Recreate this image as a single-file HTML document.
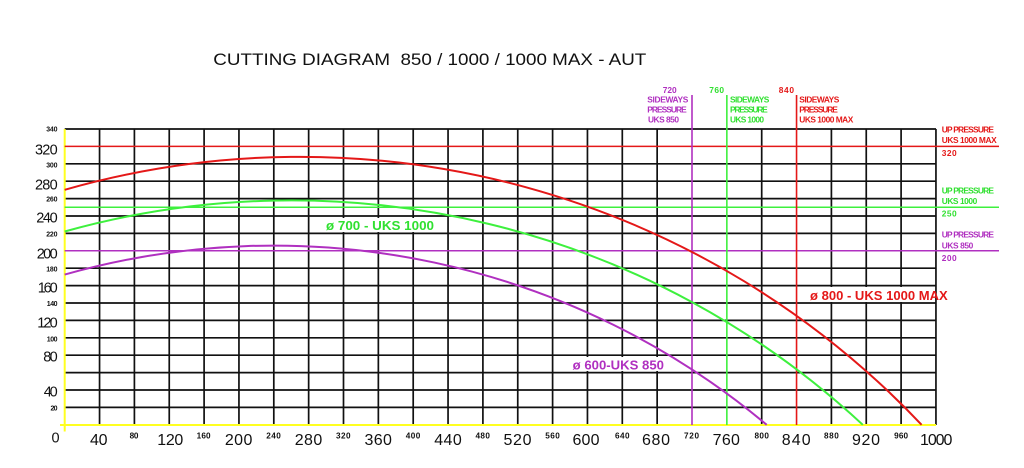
<!DOCTYPE html>
<html><head><meta charset="utf-8"><style>
html,body{margin:0;padding:0;background:#fff;width:1024px;height:468px;overflow:hidden;}
svg{display:block;}
text{font-family:"Liberation Sans",sans-serif;}
</style></head><body>
<svg width="1024" height="468" viewBox="0 0 1024 468" xmlns="http://www.w3.org/2000/svg">
<rect width="1024" height="468" fill="#fff"/>

<!-- title -->
<text x="213.3" y="65" font-size="16.5" fill="#111" xml:space="preserve" style="white-space:pre" textLength="433" lengthAdjust="spacingAndGlyphs">CUTTING DIAGRAM  850 / 1000 / 1000 MAX - AUT</text>

<!-- grid horizontal -->
<g stroke="#111" stroke-width="1.7">
<line x1="64.7" x2="936" y1="407.4" y2="407.4"/>
<line x1="64.7" x2="936" y1="390.0" y2="390.0"/>
<line x1="64.7" x2="936" y1="372.6" y2="372.6"/>
<line x1="64.7" x2="936" y1="355.2" y2="355.2"/>
<line x1="64.7" x2="936" y1="337.8" y2="337.8"/>
<line x1="64.7" x2="936" y1="320.4" y2="320.4"/>
<line x1="64.7" x2="936" y1="303.0" y2="303.0"/>
<line x1="64.7" x2="936" y1="285.6" y2="285.6"/>
<line x1="64.7" x2="936" y1="268.2" y2="268.2"/>
<line x1="64.7" x2="936" y1="233.4" y2="233.4"/>
<line x1="64.7" x2="936" y1="216.0" y2="216.0"/>
<line x1="64.7" x2="936" y1="198.6" y2="198.6"/>
<line x1="64.7" x2="936" y1="181.2" y2="181.2"/>
<line x1="64.7" x2="936" y1="163.8" y2="163.8"/>
<line x1="64.7" x2="936" y1="129.0" y2="129.0"/>
</g>
<!-- grid vertical -->
<g stroke="#111" stroke-width="1.7">
<line y1="129" y2="425" x1="99.55" x2="99.55"/>
<line y1="129" y2="425" x1="134.4" x2="134.4"/>
<line y1="129" y2="425" x1="169.25" x2="169.25"/>
<line y1="129" y2="425" x1="204.1" x2="204.1"/>
<line y1="129" y2="425" x1="238.95" x2="238.95"/>
<line y1="129" y2="425" x1="273.8" x2="273.8"/>
<line y1="129" y2="425" x1="308.65" x2="308.65"/>
<line y1="129" y2="425" x1="343.5" x2="343.5"/>
<line y1="129" y2="425" x1="378.35" x2="378.35"/>
<line y1="129" y2="425" x1="413.2" x2="413.2"/>
<line y1="129" y2="425" x1="448.05" x2="448.05"/>
<line y1="129" y2="425" x1="482.9" x2="482.9"/>
<line y1="129" y2="425" x1="517.75" x2="517.75"/>
<line y1="129" y2="425" x1="552.6" x2="552.6"/>
<line y1="129" y2="425" x1="587.45" x2="587.45"/>
<line y1="129" y2="425" x1="622.3" x2="622.3"/>
<line y1="129" y2="425" x1="657.15" x2="657.15"/>
<line y1="129" y2="425" x1="761.7" x2="761.7"/>
<line y1="129" y2="425" x1="831.4" x2="831.4"/>
<line y1="129" y2="425" x1="866.25" x2="866.25"/>
<line y1="129" y2="425" x1="901.1" x2="901.1"/>
<line y1="129" y2="425" x1="935.95" x2="935.95"/>
</g>

<!-- label masks -->
<rect x="805" y="287" width="130" height="15" fill="#fff"/>
<rect x="322" y="218" width="116" height="14" fill="#fff"/>
<rect x="568" y="357" width="100" height="14" fill="#fff"/>

<!-- axes yellow -->
<line x1="64.7" x2="64.7" y1="129" y2="431.5" stroke="#ffff20" stroke-width="2"/>
<line x1="60" x2="936" y1="425" y2="425" stroke="#ffff20" stroke-width="2"/>

<!-- colored reference lines -->
<line x1="64.7" x2="999" y1="146.4" y2="146.4" stroke="#e41818" stroke-width="1.5"/>
<line x1="64.7" x2="999" y1="207.3" y2="207.3" stroke="#3ef03e" stroke-width="1.5"/>
<line x1="64.7" x2="999" y1="250.8" y2="250.8" stroke="#b030c0" stroke-width="1.5"/>
<line x1="692.0" x2="692.0" y1="95" y2="425" stroke="#b030c0" stroke-width="1.6"/>
<line x1="726.85" x2="726.85" y1="95" y2="425" stroke="#3ef03e" stroke-width="1.6"/>
<line x1="796.55" x2="796.55" y1="95" y2="425" stroke="#e41818" stroke-width="1.6"/>

<!-- curves -->
<g fill="none" stroke-width="2">
<path d="M64.7,189.8 A854.3,853 0 0 1 921.6,424.8" stroke="#e41818"/>
<path d="M64.7,231.5 A839.1,837.8 0 0 1 862.8,424.8" stroke="#3ef03e"/>
<path d="M64.7,274.6 A766.5,765.3 0 0 1 766.7,424.8" stroke="#b030c0"/>
</g>

<!-- curve labels -->
<text x="810" y="300" font-size="12.5" font-weight="bold" fill="#e41818" textLength="137.7" lengthAdjust="spacingAndGlyphs">ø 800 - UKS 1000 MAX</text>
<text x="326" y="230" font-size="12.5" font-weight="bold" fill="#30e030" textLength="108" lengthAdjust="spacingAndGlyphs">ø 700 - UKS 1000</text>
<text x="572.7" y="369.3" font-size="12.5" font-weight="bold" fill="#b030c0" textLength="91.3" lengthAdjust="spacingAndGlyphs">ø 600-UKS 850</text>

<!-- top labels -->
<g font-size="8.4" font-weight="bold" lengthAdjust="spacingAndGlyphs">
<text x="662.7" y="93" fill="#b030c0" textLength="14">720</text>
<text x="647.3" y="102.7" fill="#b030c0" textLength="41">SIDEWAYS</text>
<text x="647.3" y="112.7" fill="#b030c0" textLength="39.4">PRESSURE</text>
<text x="648" y="122.7" fill="#b030c0" textLength="31">UKS 850</text>
<text x="709.3" y="93" fill="#30e030" textLength="14.7">760</text>
<text x="730" y="102.7" fill="#30e030" textLength="39.3">SIDEWAYS</text>
<text x="730" y="112.7" fill="#30e030" textLength="37.7">PRESSURE</text>
<text x="730" y="122.7" fill="#30e030" textLength="34">UKS 1000</text>
<text x="778.7" y="93" fill="#e41818" textLength="15.3">840</text>
<text x="799.3" y="102.7" fill="#e41818" textLength="40">SIDEWAYS</text>
<text x="799.3" y="112.7" fill="#e41818" textLength="38.5">PRESSURE</text>
<text x="799.3" y="122.7" fill="#e41818" textLength="54">UKS 1000 MAX</text>
<!-- right labels -->
<text x="941.7" y="132.7" fill="#e41818" textLength="52.3">UP PRESSURE</text>
<text x="941.7" y="143" fill="#e41818" textLength="55">UKS 1000 MAX</text>
<text x="941.7" y="156" fill="#e41818" textLength="15">320</text>
<text x="941.7" y="193.3" fill="#30e030" textLength="52.3">UP PRESSURE</text>
<text x="941.7" y="204" fill="#30e030" textLength="35.6">UKS 1000</text>
<text x="941.7" y="216.7" fill="#30e030" textLength="15">250</text>
<text x="941.7" y="237.7" fill="#b030c0" textLength="52.3">UP PRESSURE</text>
<text x="941.7" y="248.3" fill="#b030c0" textLength="31.6">UKS 850</text>
<text x="941.7" y="261" fill="#b030c0" textLength="15">200</text>
</g>

<!-- y axis big labels -->
<g font-size="14.5" fill="#111" text-anchor="end" lengthAdjust="spacingAndGlyphs">
<text x="57.7" y="154.3" textLength="22.7">320</text>
<text x="57.7" y="189.3" textLength="22.7">280</text>
<text x="57.7" y="222.3" textLength="21.5">240</text>
<text x="57.7" y="258.3" textLength="21">200</text>
<text x="57.7" y="292.7" textLength="20">160</text>
<text x="57.7" y="327.7" textLength="20.5">120</text>
<text x="57.7" y="361.7" textLength="14.5">80</text>
<text x="57.7" y="396.7" textLength="14">40</text>
</g>
<!-- y axis small labels -->
<g font-size="7" font-weight="bold" fill="#111" text-anchor="end" lengthAdjust="spacingAndGlyphs">
<text x="57.5" y="131.7" textLength="11.3">340</text>
<text x="57.5" y="167.3" textLength="11.3">300</text>
<text x="57.5" y="201.7" textLength="11.3">260</text>
<text x="57.5" y="236.7" textLength="11.3">220</text>
<text x="57.5" y="271.7" textLength="11.3">180</text>
<text x="57.5" y="306.2" textLength="10.7">140</text>
<text x="57.5" y="341.3" textLength="10.7">100</text>
<text x="57.5" y="410.7" textLength="7">20</text>
</g>

<!-- x axis big labels -->
<g font-size="16" fill="#111" text-anchor="middle" lengthAdjust="spacingAndGlyphs">
<text x="55.5" y="442.3" font-size="14.5" textLength="6.5">0</text>
<text x="98.8" y="445" textLength="17.5">40</text>
<text x="170.3" y="445" textLength="26">120</text>
<text x="238.6" y="445" textLength="27.5">200</text>
<text x="308.5" y="445" textLength="27.5">280</text>
<text x="378.2" y="445" textLength="27.5">360</text>
<text x="448" y="445" textLength="27.5">440</text>
<text x="517.5" y="445" textLength="28">520</text>
<text x="586" y="445" textLength="27">600</text>
<text x="656" y="445" textLength="28">680</text>
<text x="726.3" y="445" textLength="27.3">760</text>
<text x="796.2" y="445" textLength="29">840</text>
<text x="866" y="445" textLength="28">920</text>
<text x="936.2" y="445" textLength="32.3">1000</text>
</g>
<!-- x axis small labels -->
<g font-size="8.2" font-weight="bold" fill="#111" text-anchor="middle" lengthAdjust="spacingAndGlyphs">
<text x="134" y="438.6" textLength="8.8">80</text>
<text x="203.6" y="438.6" textLength="14">160</text>
<text x="273.5" y="438.6" textLength="14.5">240</text>
<text x="343.3" y="438.6" textLength="14.5">320</text>
<text x="413" y="438.6" textLength="14.5">400</text>
<text x="482.7" y="438.6" textLength="14.5">480</text>
<text x="552.5" y="438.6" textLength="14.5">560</text>
<text x="622.3" y="438.6" textLength="14.5">640</text>
<text x="691.5" y="438.6" textLength="15">720</text>
<text x="761.7" y="438.6" textLength="14.5">800</text>
<text x="831.4" y="438.6" textLength="14.7">880</text>
<text x="901.1" y="438.6" textLength="14">960</text>
</g>
</svg>
</body></html>
